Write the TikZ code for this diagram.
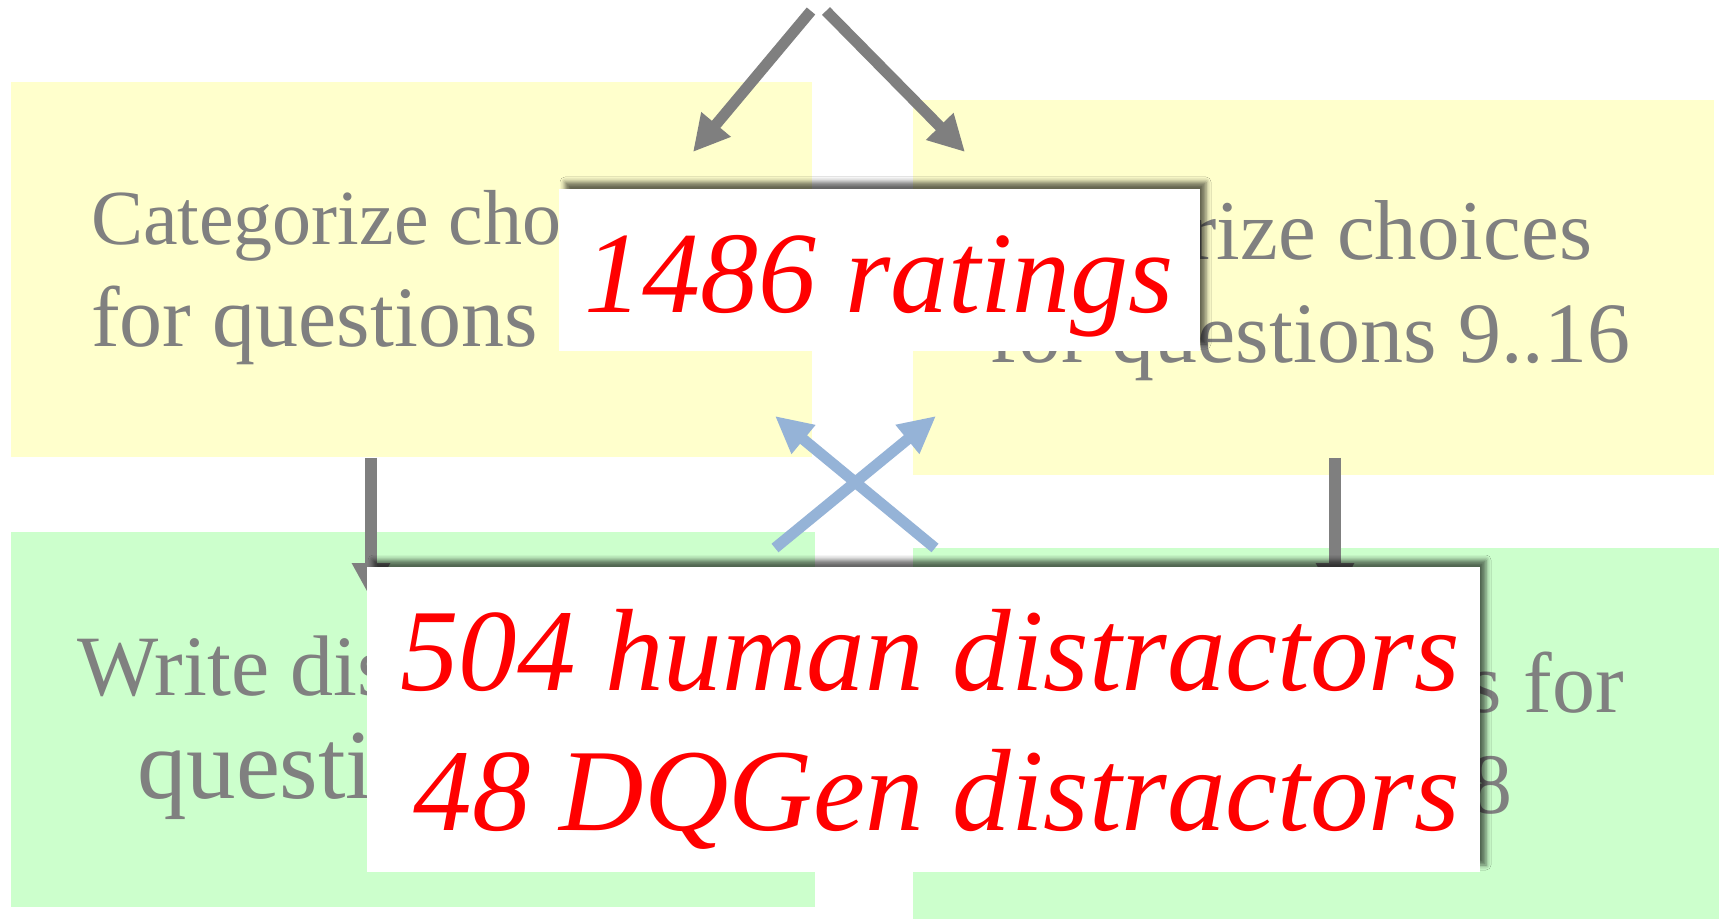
\documentclass[tikz,border=0pt]{standalone}
\usepackage{fontspec}
\setmainfont{Liberation Serif}
\usetikzlibrary{arrows.meta,shadows,shadows.blur}
\definecolor{boxyellow}{HTML}{FFFFCC}
\definecolor{boxgreen}{HTML}{CCFFCC}
\definecolor{txtgrey}{HTML}{808080}
\definecolor{arrgrey}{HTML}{7F7F7F}
\definecolor{arrblue}{HTML}{95B3D7}
\definecolor{hotred}{HTML}{FF0000}
\begin{document}
\begin{tikzpicture}[x=0.5pt,y=-0.5pt,
  panel/.style={anchor=north west, inner sep=0pt, outer sep=0pt, draw=none},
  yellowpanel/.style={panel, fill=boxyellow},
  greenpanel/.style={panel, fill=boxgreen},
  whitebox/.style={panel, fill=white,
    blur shadow={shadow xshift=3pt, shadow yshift=3.5pt, shadow blur radius=2.5pt, shadow opacity=60}},
  greytext/.style={inner sep=0pt, outer sep=0pt, text=txtgrey},
  redtext/.style={inner sep=0pt, outer sep=0pt, text=hotred, font=\itshape\fontsize{58pt}{70pt}\selectfont},
  greyarrow/.style={draw=arrgrey, line width=5.5pt, -{Triangle[length=18pt,width=18pt]}},
  bluearrow/.style={draw=arrblue, line width=5.5pt, -{Triangle[length=18.5pt,width=17.5pt]}}
]
\useasboundingbox (0,0) rectangle (1719,919);
\fill[white] (0,0) rectangle (1719,919);

% panels
\node[yellowpanel, minimum width=400.5pt, minimum height=187.5pt] (catA) at (11,82) {};
\node[yellowpanel, minimum width=400.5pt, minimum height=187.5pt] (catB) at (913,100) {};
\node[greenpanel, minimum width=402pt, minimum height=187.5pt] (writeA) at (11,532) {};
\node[greenpanel, minimum width=403pt, minimum height=190pt] (writeB) at (913,548) {};

% panel texts
\node[greytext, anchor=base west, font=\fontsize{39pt}{46pt}\selectfont] (catA1) at (91,245) {Categorize choices};
\node[greytext, anchor=base west, font=\fontsize{43pt}{50pt}\selectfont] (catA2) at (91,347) {for questions\hspace{0.4em} 1..8};
\node[greytext, anchor=base east, font=\fontsize{42.5pt}{50pt}\selectfont] (catB1) at (1592,260) {Categorize choices};
\node[greytext, anchor=base east, font=\fontsize{43pt}{50pt}\selectfont] (catB2) at (1630,363) {for questions 9..16};
\node[greytext, anchor=base west, font=\fontsize{43pt}{50pt}\selectfont] (writeA1) at (77,695) {Write distractors for};
\node[greytext, anchor=base west, font=\fontsize{49.5pt}{56pt}\selectfont] (writeA2) at (137,798) {questions 9..16};
\node[greytext, anchor=base east, font=\fontsize{43pt}{50pt}\selectfont] (writeB1) at (1624,712) {Write distractors for};
\node[greytext, anchor=base east, font=\fontsize{43pt}{50pt}\selectfont] (writeB2) at (1512,813) {questions 1..8};

% grey arrows from the top
\coordinate (topL) at (811,11);
\coordinate (topR) at (826,11);
\coordinate (tipL) at (693,152);
\coordinate (tipR) at (965,152);
\draw[greyarrow] (topL) -- (tipL);
\draw[greyarrow] (topR) -- (tipR);

% grey vertical arrows
\coordinate (downLs) at (371,458);
\coordinate (downLe) at (371,599);
\coordinate (downRs) at (1335,458);
\coordinate (downRe) at (1335,599);
\draw[greyarrow, line width=6pt] (downLs) -- (downLe);
\draw[greyarrow, line width=6pt] (downRs) -- (downRe);

% blue crossing arrows
\coordinate (blueAs) at (775,548);
\coordinate (blueAe) at (936,416);
\coordinate (blueBs) at (935,548);
\coordinate (blueBe) at (775,416);
\draw[bluearrow] (blueAs) -- (blueAe);
\draw[bluearrow] (blueBs) -- (blueBe);

% white overlay boxes
\node[whitebox, minimum width=320.5pt, minimum height=81pt] (ratingsbox) at (559,189) {};
\node[redtext, anchor=base west] (ratings) at (584,313) {1486 ratings};

\node[whitebox, minimum width=556.5pt, minimum height=152.5pt] (distbox) at (367,567) {};
\node[redtext, anchor=base east, font=\itshape\fontsize{58.5pt}{70pt}\selectfont] (human) at (1460,690) {504 human distractors};
\node[redtext, anchor=base east, font=\itshape\fontsize{58.5pt}{70pt}\selectfont] (dqgen) at (1460,830) {48 DQGen distractors};
\end{tikzpicture}
\end{document}
